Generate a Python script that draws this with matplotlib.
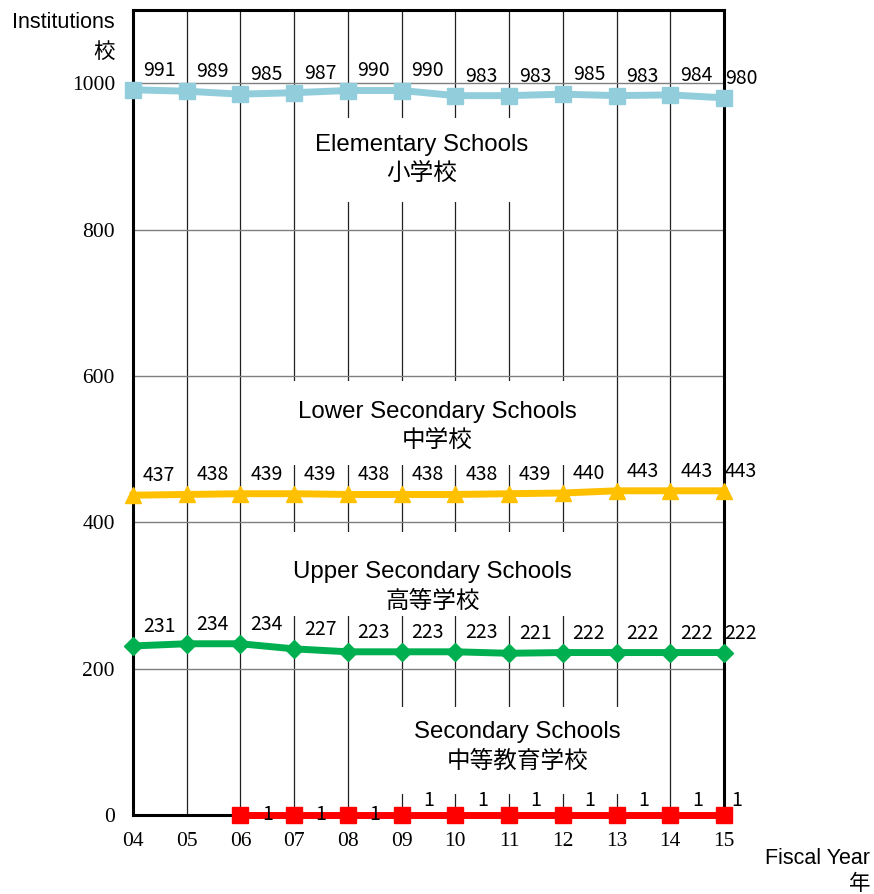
import matplotlib.pyplot as plt
from matplotlib.patches import Rectangle

# fiscal years (tick labels) and counts
years = ['04', '05', '06', '07', '08', '09', '10', '11', '12', '13', '14', '15']
elementary = [991, 989, 985, 987, 990, 990, 983, 983, 985, 983, 984, 980]
lower_sec = [437, 438, 439, 439, 438, 438, 438, 439, 440, 443, 443, 443]
upper_sec = [231, 234, 234, 227, 223, 223, 223, 221, 222, 222, 222, 222]
secondary_years = years[2:]
secondary = [1, 1, 1, 1, 1, 1, 1, 1, 1, 1]

x_all = [int(y) for y in years]
x_sec = [int(y) for y in secondary_years]

SANS = ['Liberation Sans', 'Noto Sans CJK JP']
NUM = ['Noto Sans CJK JP', 'DejaVu Sans']

fig = plt.figure(figsize=(8.74, 8.94), dpi=100)
ax = fig.add_axes([133 / 874, 79 / 894, 591 / 874, 805 / 894])
ax.set_xlim(4, 15)
ax.set_ylim(0, 1100)

# grid lines drawn by hand so the label boxes can cover them
for xv in x_all[1:-1]:
    ax.axvline(xv, color='#202020', lw=0.9, zorder=0.5)
for yv in [200, 400, 600, 800, 1000]:
    ax.axhline(yv, color='#7f7f7f', lw=1.0, zorder=0.5)

# white boxes behind the category labels
boxes = [(7.1, 838, 11.95, 953), (6.08, 478, 12.93, 593),
         (6.08, 272, 12.93, 387), (8.08, 29, 13.9, 148)]
for x0, y0, x1, y1 in boxes:
    ax.add_patch(Rectangle((x0, y0), x1 - x0, y1 - y0, facecolor='white',
                           edgecolor='none', zorder=1))

series = [
    (x_all, elementary, '#92CDDC', 's', 11),
    (x_all, lower_sec, '#FFC000', '^', 12),
    (x_all, upper_sec, '#00B050', 'D', 9),
    (x_sec, [0] * len(secondary), '#FF0000', 's', 11),
]
for xs, ys, c, m, ms in series:
    ax.plot(xs, ys, color=c, lw=5, marker=m, markersize=ms,
            markeredgecolor=c, zorder=3, clip_on=False)

# data labels
for vals in [elementary, lower_sec, upper_sec]:
    for i, (xv, v) in enumerate(zip(x_all, vals)):
        dx = 17 if i == len(vals) - 1 else 26
        ax.annotate(str(v), (xv, v), textcoords='offset pixels',
                    xytext=(dx, 9), ha='center', va='bottom',
                    fontsize=14, family=NUM, zorder=4)
for i, (xv, v) in enumerate(zip(x_sec, secondary)):
    dy = 0 if i < 3 else 14
    ax.annotate(str(v), (xv, 0), textcoords='offset pixels',
                xytext=(27 if i < 9 else 13, dy), ha='center', va='center',
                fontsize=14, family=NUM, zorder=4)

# category labels
cats = [(9.38, 'Elementary Schools', '小学校', 145),
        (9.66, 'Lower Secondary Schools', '中学校', 412),
        (9.57, 'Upper Secondary Schools', '高等学校', 572),
        (11.15, 'Secondary Schools', '中等教育学校', 732)]
for xc, en, jp, ypx in cats:
    y_en = (815 - ypx) / 0.7315
    y_jp = (815 - ypx - 29) / 0.7315
    ax.text(xc, y_en, en, ha='center', va='center', fontsize=17.3,
            family=SANS, zorder=4)
    ax.text(xc, y_jp, jp, ha='center', va='center', fontsize=17,
            family=['Noto Sans CJK JP'], zorder=4)

ax.set_xticks(x_all)
ax.set_xticklabels(years)
ax.set_yticks([0, 200, 400, 600, 800, 1000])
ax.tick_params(length=0, labelsize=15.5)
ax.tick_params(axis='x', pad=12)
ax.tick_params(axis='y', pad=13)
for lab in ax.get_xticklabels() + ax.get_yticklabels():
    lab.set_family(['Liberation Serif', 'DejaVu Serif'])

for sp in ax.spines.values():
    sp.set_color('black')
    sp.set_linewidth(2.2)

fig.text(115 / 874, 1 - 22 / 894, 'Institutions', ha='right', va='center',
         fontsize=15.5, family=SANS)
fig.text(115 / 874, 1 - 52 / 894, '校', ha='right', va='center',
         fontsize=15.5, family=['Noto Sans CJK JP'])
fig.text(870 / 874, 1 - 858 / 894, 'Fiscal Year', ha='right', va='center',
         fontsize=15.5, family=SANS)
fig.text(870 / 874, 1 - 884 / 894, '年', ha='right', va='center',
         fontsize=15.5, family=['Noto Sans CJK JP'])

fig.savefig('out.png', dpi=100)
